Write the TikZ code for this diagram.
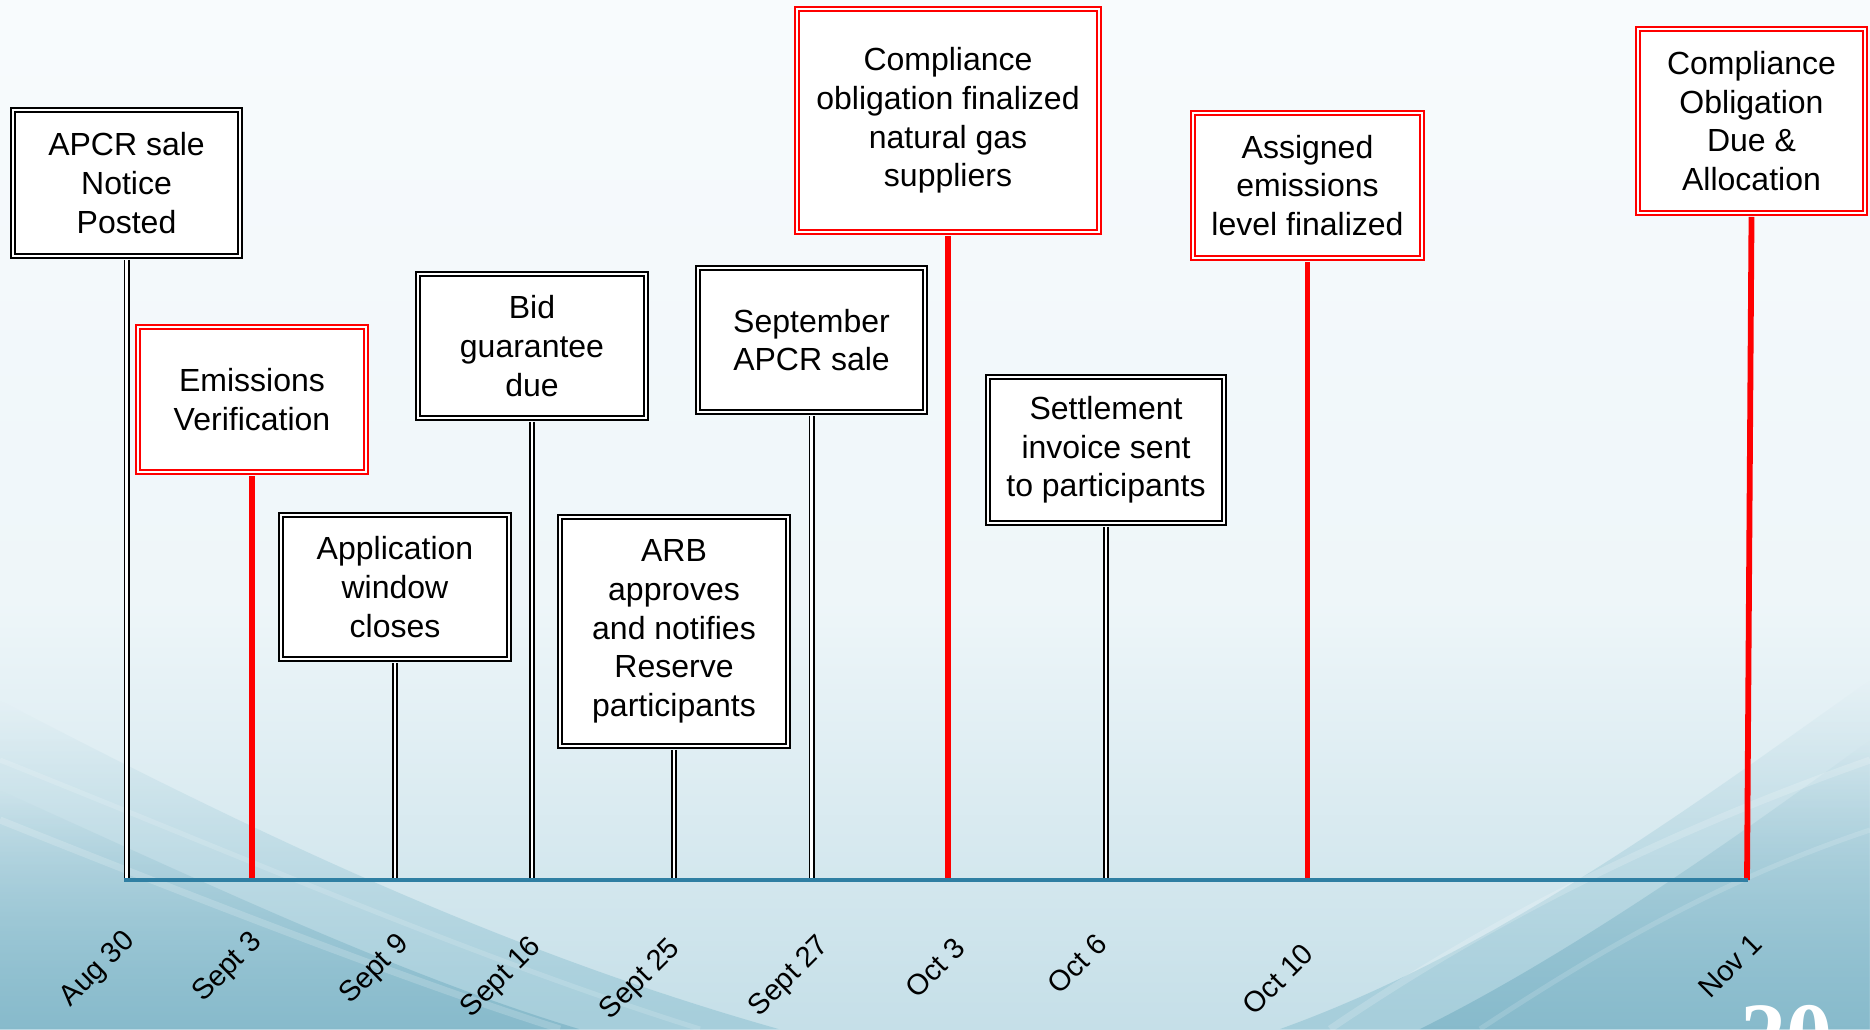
\documentclass[tikz,border=0pt]{standalone}
\usepackage{fontspec}
\setmainfont{Liberation Sans}
\newfontfamily\numfont{Liberation Serif}
\usetikzlibrary{fadings}
\definecolor{axisblue}{HTML}{2F7FA3}
\definecolor{bgtop}{HTML}{F8FBFD}
\definecolor{bgmid}{HTML}{EEF6F9}
\definecolor{bgbot}{HTML}{C5DFE8}
\definecolor{tealA}{HTML}{A6CEDB}
\definecolor{tealB}{HTML}{80B6C8}
\tikzset{
  evbox/.style={draw=black, double=white, line width=1.6pt, double distance=2.6pt,
    fill=white, inner sep=0pt, align=center, text=black,
    font=\fontsize{32}{38.7}\selectfont},
  redbox/.style={evbox, draw=red},
  bstem/.style={draw=black, double=white, line width=1.6pt, double distance=2.8pt},
  rstem/.style={draw=red, line width=5.8pt},
  axisline/.style={draw=axisblue, line width=4pt},
  datelbl/.style={rotate=45, inner sep=0pt, text=black, font=\fontsize{29}{32}\selectfont}
}
\begin{document}
\begin{tikzpicture}[x=1pt,y=-1pt]
\useasboundingbox (0,0) rectangle (1870,1029);
\clip (0,0) rectangle (1870,1029);
% background
\shade[top color=bgtop, bottom color=bgmid] (0,0) rectangle (1870,600);
\shade[top color=bgmid, bottom color=bgbot] (0,600) rectangle (1870,1029);
\fill[tealA, path fading=north] (0,700) .. controls (250,830) and (500,950) .. (780,1029) -- (0,1029) -- cycle;
\fill[tealB, opacity=0.8, path fading=north] (0,790) .. controls (200,880) and (400,975) .. (580,1029) -- (0,1029) -- cycle;
\draw[white, opacity=0.18, line width=7pt] (0,820) .. controls (200,900) and (420,985) .. (560,1029);
\draw[white, opacity=0.15, line width=5pt] (0,760) .. controls (250,860) and (480,960) .. (700,1029);
\fill[tealA, path fading=north] (1870,680) .. controls (1700,800) and (1500,950) .. (1280,1029) -- (1870,1029) -- cycle;
\fill[tealB, opacity=0.8, path fading=north] (1870,740) .. controls (1720,850) and (1560,960) .. (1420,1029) -- (1870,1029) -- cycle;
\draw[white, opacity=0.18, line width=7pt] (1870,760) .. controls (1700,820) and (1520,900) .. (1330,1029);
\draw[white, opacity=0.15, line width=5pt] (1870,830) .. controls (1720,880) and (1600,950) .. (1480,1029);
% slide number
\node[text=white, inner sep=0pt, anchor=base, font=\numfont\bfseries\fontsize{92}{92}\selectfont] (pg) at (1786,1066) {20};
% boxes
\node[evbox,  minimum width=227.2pt, minimum height=146.2pt] (b1)  at (126.5,183)   {APCR sale\\Notice\\Posted};
\node[redbox, minimum width=228.2pt, minimum height=145.2pt] (b2)  at (252,399.5)   {Emissions\\Verification};
\node[evbox,  minimum width=228.2pt, minimum height=144.2pt] (b3)  at (395,587)     {Application\\window\\closes};
\node[evbox,  minimum width=228.2pt, minimum height=144.2pt] (b4)  at (532,346)     {Bid\\guarantee\\due};
\node[evbox,  minimum width=228.2pt, minimum height=229.2pt] (b5)  at (674,631.5)   {ARB\\approves\\and notifies\\Reserve\\participants};
\node[evbox,  minimum width=227.2pt, minimum height=144.2pt] (b6)  at (811.5,340)   {September\\APCR sale};
\node[redbox, minimum width=302.2pt, minimum height=223.2pt] (b7)  at (948,120.5)   {Compliance\\obligation finalized\\natural gas\\suppliers};
\node[evbox,  minimum width=236.2pt, minimum height=146.2pt] (b8)  at (1106,450)    {Settlement\\invoice sent\\to participants};
\node[redbox, minimum width=229.2pt, minimum height=145.2pt] (b9)  at (1307.5,185.5) {Assigned\\emissions\\level finalized};
\node[redbox, minimum width=227.2pt, minimum height=184.2pt] (b10) at (1751.5,121)  {Compliance\\Obligation\\Due \&\\Allocation};
% axis coordinates
\coordinate (axL) at (124,880);
\coordinate (axR) at (1748,880);
\coordinate (nov) at (1747,880);
% stems
\draw[bstem] ([yshift=-2.9pt]b1.south) -- (b1.south |- axL);
\draw[rstem] ([yshift=-2.9pt]b2.south) -- (b2.south |- axL);
\draw[bstem] ([yshift=-2.9pt]b3.south) -- (b3.south |- axL);
\draw[bstem] ([yshift=-2.9pt]b4.south) -- (b4.south |- axL);
\draw[bstem] ([yshift=-2.9pt]b5.south) -- (b5.south |- axL);
\draw[bstem] ([yshift=-2.9pt]b6.south) -- (b6.south |- axL);
\draw[rstem] ([yshift=-2.9pt]b7.south) -- (b7.south |- axL);
\draw[bstem] ([yshift=-2.9pt]b8.south) -- (b8.south |- axL);
\draw[rstem] ([yshift=-2.9pt]b9.south) -- (b9.south |- axL);
\draw[rstem] ([yshift=-2.9pt]b10.south) -- (nov);
% axis
\draw[axisline] (axL) -- (axR);
% dates
\node[datelbl] (d1)  at (98,970)   {Aug 30};
\node[datelbl] (d2)  at (228,968)  {Sept 3};
\node[datelbl] (d3)  at (375,970)  {Sept 9};
\node[datelbl] (d4)  at (502,978)  {Sept 16};
\node[datelbl] (d5)  at (641,980)  {Sept 25};
\node[datelbl] (d6)  at (790,977)  {Sept 27};
\node[datelbl] (d7)  at (935,968)  {Oct 3};
\node[datelbl] (d8)  at (1077,964) {Oct 6};
\node[datelbl] (d9)  at (1278,979) {Oct 10};
\node[datelbl] (d10) at (1730,966) {Nov 1};
\end{tikzpicture}
\end{document}
